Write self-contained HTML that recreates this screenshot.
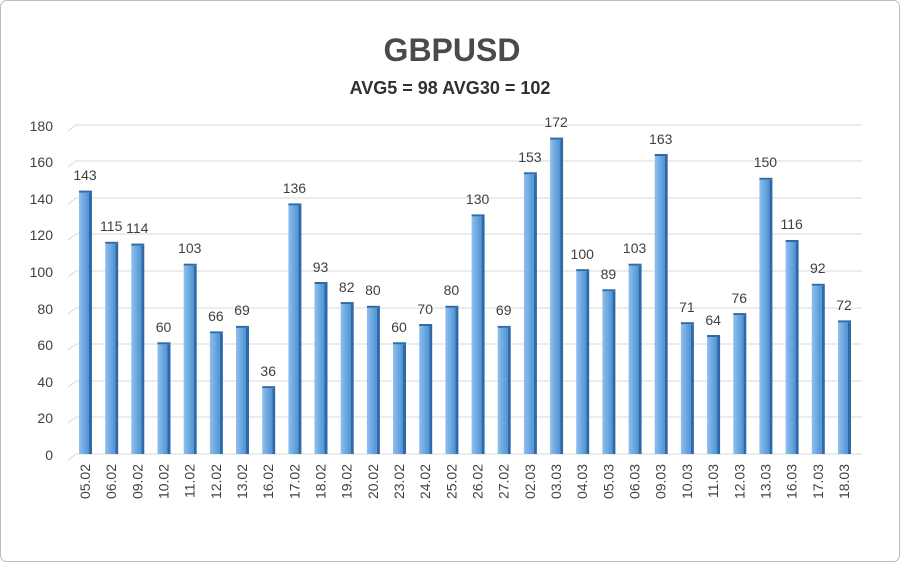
<!DOCTYPE html>
<html><head><meta charset="utf-8"><style>
html,body{margin:0;padding:0;background:#fff}
svg{display:block}
text{font-family:"Liberation Sans",sans-serif}
</style></head><body>
<svg width="900" height="562" viewBox="0 0 900 562" xmlns="http://www.w3.org/2000/svg">
<defs>
<linearGradient id="g" x1="0" x2="1" y1="0" y2="0"><stop offset="0" stop-color="#8fc0ec"/><stop offset="1" stop-color="#4f93d6"/></linearGradient>
</defs>
<rect x="0.5" y="0.5" width="899" height="561" rx="6" fill="#fff" stroke="#bdbdbd"/>
<text x="452" y="61" text-anchor="middle" font-size="32" font-weight="bold" fill="#4a4a4a">GBPUSD</text>
<text x="450" y="94" text-anchor="middle" font-size="18" font-weight="bold" fill="#303030">AVG5 = 98 AVG30 = 102</text>
<g stroke="#d9d9d9" fill="none" stroke-width="1">
<path d="M68,460 L76,454 H862"/><path d="M68,423 L76,417 H862"/><path d="M68,387 L76,381 H862"/><path d="M68,350 L76,344 H862"/><path d="M68,314 L76,308 H862"/><path d="M68,277 L76,271 H862"/><path d="M68,240 L76,234 H862"/><path d="M68,204 L76,198 H862"/><path d="M68,167 L76,161 H862"/><path d="M68,131 L76,125 H862"/>
</g>
<g font-size="14" fill="#404040" text-anchor="end">
<text x="53" y="460">0</text><text x="53" y="423">20</text><text x="53" y="387">40</text><text x="53" y="350">60</text><text x="53" y="314">80</text><text x="53" y="277">100</text><text x="53" y="240">120</text><text x="53" y="204">140</text><text x="53" y="167">160</text><text x="53" y="131">180</text>
</g>
<g font-size="14" fill="#404040">
<g transform="translate(85,0)"><rect x="-6" y="192.6" width="10" height="261.4" fill="url(#g)"/><rect x="4" y="192.6" width="3" height="261.4" fill="#2f6aa8"/><rect x="-6" y="190.6" width="13" height="2" fill="#2f6aa8"/><text y="180" text-anchor="middle">143</text><text transform="translate(5,464) rotate(-90)" text-anchor="end">05.02</text></g>
<g transform="translate(111.2,0)"><rect x="-6" y="243.8" width="10" height="210.2" fill="url(#g)"/><rect x="4" y="243.8" width="3" height="210.2" fill="#2f6aa8"/><rect x="-6" y="241.8" width="13" height="2" fill="#2f6aa8"/><text y="231" text-anchor="middle">115</text><text transform="translate(5,464) rotate(-90)" text-anchor="end">06.02</text></g>
<g transform="translate(137.3,0)"><rect x="-6" y="245.6" width="10" height="208.4" fill="url(#g)"/><rect x="4" y="245.6" width="3" height="208.4" fill="#2f6aa8"/><rect x="-6" y="243.6" width="13" height="2" fill="#2f6aa8"/><text y="233" text-anchor="middle">114</text><text transform="translate(5,464) rotate(-90)" text-anchor="end">09.02</text></g>
<g transform="translate(163.5,0)"><rect x="-6" y="344.3" width="10" height="109.7" fill="url(#g)"/><rect x="4" y="344.3" width="3" height="109.7" fill="#2f6aa8"/><rect x="-6" y="342.3" width="13" height="2" fill="#2f6aa8"/><text y="332" text-anchor="middle">60</text><text transform="translate(5,464) rotate(-90)" text-anchor="end">10.02</text></g>
<g transform="translate(189.7,0)"><rect x="-6" y="265.7" width="10" height="188.3" fill="url(#g)"/><rect x="4" y="265.7" width="3" height="188.3" fill="#2f6aa8"/><rect x="-6" y="263.7" width="13" height="2" fill="#2f6aa8"/><text y="253" text-anchor="middle">103</text><text transform="translate(5,464) rotate(-90)" text-anchor="end">11.02</text></g>
<g transform="translate(215.9,0)"><rect x="-6" y="333.4" width="10" height="120.6" fill="url(#g)"/><rect x="4" y="333.4" width="3" height="120.6" fill="#2f6aa8"/><rect x="-6" y="331.4" width="13" height="2" fill="#2f6aa8"/><text y="321" text-anchor="middle">66</text><text transform="translate(5,464) rotate(-90)" text-anchor="end">12.02</text></g>
<g transform="translate(242,0)"><rect x="-6" y="327.9" width="10" height="126.1" fill="url(#g)"/><rect x="4" y="327.9" width="3" height="126.1" fill="#2f6aa8"/><rect x="-6" y="325.9" width="13" height="2" fill="#2f6aa8"/><text y="315" text-anchor="middle">69</text><text transform="translate(5,464) rotate(-90)" text-anchor="end">13.02</text></g>
<g transform="translate(268.2,0)"><rect x="-6" y="388.2" width="10" height="65.8" fill="url(#g)"/><rect x="4" y="388.2" width="3" height="65.8" fill="#2f6aa8"/><rect x="-6" y="386.2" width="13" height="2" fill="#2f6aa8"/><text y="376" text-anchor="middle">36</text><text transform="translate(5,464) rotate(-90)" text-anchor="end">16.02</text></g>
<g transform="translate(294.4,0)"><rect x="-6" y="205.4" width="10" height="248.6" fill="url(#g)"/><rect x="4" y="205.4" width="3" height="248.6" fill="#2f6aa8"/><rect x="-6" y="203.4" width="13" height="2" fill="#2f6aa8"/><text y="193" text-anchor="middle">136</text><text transform="translate(5,464) rotate(-90)" text-anchor="end">17.02</text></g>
<g transform="translate(320.5,0)"><rect x="-6" y="284" width="10" height="170" fill="url(#g)"/><rect x="4" y="284" width="3" height="170" fill="#2f6aa8"/><rect x="-6" y="282" width="13" height="2" fill="#2f6aa8"/><text y="272" text-anchor="middle">93</text><text transform="translate(5,464) rotate(-90)" text-anchor="end">18.02</text></g>
<g transform="translate(346.7,0)"><rect x="-6" y="304.1" width="10" height="149.9" fill="url(#g)"/><rect x="4" y="304.1" width="3" height="149.9" fill="#2f6aa8"/><rect x="-6" y="302.1" width="13" height="2" fill="#2f6aa8"/><text y="292" text-anchor="middle">82</text><text transform="translate(5,464) rotate(-90)" text-anchor="end">19.02</text></g>
<g transform="translate(372.9,0)"><rect x="-6" y="307.8" width="10" height="146.2" fill="url(#g)"/><rect x="4" y="307.8" width="3" height="146.2" fill="#2f6aa8"/><rect x="-6" y="305.8" width="13" height="2" fill="#2f6aa8"/><text y="295" text-anchor="middle">80</text><text transform="translate(5,464) rotate(-90)" text-anchor="end">20.02</text></g>
<g transform="translate(399,0)"><rect x="-6" y="344.3" width="10" height="109.7" fill="url(#g)"/><rect x="4" y="344.3" width="3" height="109.7" fill="#2f6aa8"/><rect x="-6" y="342.3" width="13" height="2" fill="#2f6aa8"/><text y="332" text-anchor="middle">60</text><text transform="translate(5,464) rotate(-90)" text-anchor="end">23.02</text></g>
<g transform="translate(425.2,0)"><rect x="-6" y="326" width="10" height="128" fill="url(#g)"/><rect x="4" y="326" width="3" height="128" fill="#2f6aa8"/><rect x="-6" y="324" width="13" height="2" fill="#2f6aa8"/><text y="314" text-anchor="middle">70</text><text transform="translate(5,464) rotate(-90)" text-anchor="end">24.02</text></g>
<g transform="translate(451.4,0)"><rect x="-6" y="307.8" width="10" height="146.2" fill="url(#g)"/><rect x="4" y="307.8" width="3" height="146.2" fill="#2f6aa8"/><rect x="-6" y="305.8" width="13" height="2" fill="#2f6aa8"/><text y="295" text-anchor="middle">80</text><text transform="translate(5,464) rotate(-90)" text-anchor="end">25.02</text></g>
<g transform="translate(477.6,0)"><rect x="-6" y="216.4" width="10" height="237.6" fill="url(#g)"/><rect x="4" y="216.4" width="3" height="237.6" fill="#2f6aa8"/><rect x="-6" y="214.4" width="13" height="2" fill="#2f6aa8"/><text y="204" text-anchor="middle">130</text><text transform="translate(5,464) rotate(-90)" text-anchor="end">26.02</text></g>
<g transform="translate(503.7,0)"><rect x="-6" y="327.9" width="10" height="126.1" fill="url(#g)"/><rect x="4" y="327.9" width="3" height="126.1" fill="#2f6aa8"/><rect x="-6" y="325.9" width="13" height="2" fill="#2f6aa8"/><text y="315" text-anchor="middle">69</text><text transform="translate(5,464) rotate(-90)" text-anchor="end">27.02</text></g>
<g transform="translate(529.9,0)"><rect x="-6" y="174.3" width="10" height="279.7" fill="url(#g)"/><rect x="4" y="174.3" width="3" height="279.7" fill="#2f6aa8"/><rect x="-6" y="172.3" width="13" height="2" fill="#2f6aa8"/><text y="162" text-anchor="middle">153</text><text transform="translate(5,464) rotate(-90)" text-anchor="end">02.03</text></g>
<g transform="translate(556.1,0)"><rect x="-6" y="139.6" width="10" height="314.4" fill="url(#g)"/><rect x="4" y="139.6" width="3" height="314.4" fill="#2f6aa8"/><rect x="-6" y="137.6" width="13" height="2" fill="#2f6aa8"/><text y="127" text-anchor="middle">172</text><text transform="translate(5,464) rotate(-90)" text-anchor="end">03.03</text></g>
<g transform="translate(582.2,0)"><rect x="-6" y="271.2" width="10" height="182.8" fill="url(#g)"/><rect x="4" y="271.2" width="3" height="182.8" fill="#2f6aa8"/><rect x="-6" y="269.2" width="13" height="2" fill="#2f6aa8"/><text y="259" text-anchor="middle">100</text><text transform="translate(5,464) rotate(-90)" text-anchor="end">04.03</text></g>
<g transform="translate(608.4,0)"><rect x="-6" y="291.3" width="10" height="162.7" fill="url(#g)"/><rect x="4" y="291.3" width="3" height="162.7" fill="#2f6aa8"/><rect x="-6" y="289.3" width="13" height="2" fill="#2f6aa8"/><text y="279" text-anchor="middle">89</text><text transform="translate(5,464) rotate(-90)" text-anchor="end">05.03</text></g>
<g transform="translate(634.6,0)"><rect x="-6" y="265.7" width="10" height="188.3" fill="url(#g)"/><rect x="4" y="265.7" width="3" height="188.3" fill="#2f6aa8"/><rect x="-6" y="263.7" width="13" height="2" fill="#2f6aa8"/><text y="253" text-anchor="middle">103</text><text transform="translate(5,464) rotate(-90)" text-anchor="end">06.03</text></g>
<g transform="translate(660.7,0)"><rect x="-6" y="156" width="10" height="298" fill="url(#g)"/><rect x="4" y="156" width="3" height="298" fill="#2f6aa8"/><rect x="-6" y="154" width="13" height="2" fill="#2f6aa8"/><text y="144" text-anchor="middle">163</text><text transform="translate(5,464) rotate(-90)" text-anchor="end">09.03</text></g>
<g transform="translate(686.9,0)"><rect x="-6" y="324.2" width="10" height="129.8" fill="url(#g)"/><rect x="4" y="324.2" width="3" height="129.8" fill="#2f6aa8"/><rect x="-6" y="322.2" width="13" height="2" fill="#2f6aa8"/><text y="312" text-anchor="middle">71</text><text transform="translate(5,464) rotate(-90)" text-anchor="end">10.03</text></g>
<g transform="translate(713.1,0)"><rect x="-6" y="337" width="10" height="117" fill="url(#g)"/><rect x="4" y="337" width="3" height="117" fill="#2f6aa8"/><rect x="-6" y="335" width="13" height="2" fill="#2f6aa8"/><text y="325" text-anchor="middle">64</text><text transform="translate(5,464) rotate(-90)" text-anchor="end">11.03</text></g>
<g transform="translate(739.3,0)"><rect x="-6" y="315.1" width="10" height="138.9" fill="url(#g)"/><rect x="4" y="315.1" width="3" height="138.9" fill="#2f6aa8"/><rect x="-6" y="313.1" width="13" height="2" fill="#2f6aa8"/><text y="303" text-anchor="middle">76</text><text transform="translate(5,464) rotate(-90)" text-anchor="end">12.03</text></g>
<g transform="translate(765.4,0)"><rect x="-6" y="179.8" width="10" height="274.2" fill="url(#g)"/><rect x="4" y="179.8" width="3" height="274.2" fill="#2f6aa8"/><rect x="-6" y="177.8" width="13" height="2" fill="#2f6aa8"/><text y="167" text-anchor="middle">150</text><text transform="translate(5,464) rotate(-90)" text-anchor="end">13.03</text></g>
<g transform="translate(791.6,0)"><rect x="-6" y="242" width="10" height="212" fill="url(#g)"/><rect x="4" y="242" width="3" height="212" fill="#2f6aa8"/><rect x="-6" y="240" width="13" height="2" fill="#2f6aa8"/><text y="229" text-anchor="middle">116</text><text transform="translate(5,464) rotate(-90)" text-anchor="end">16.03</text></g>
<g transform="translate(817.8,0)"><rect x="-6" y="285.8" width="10" height="168.2" fill="url(#g)"/><rect x="4" y="285.8" width="3" height="168.2" fill="#2f6aa8"/><rect x="-6" y="283.8" width="13" height="2" fill="#2f6aa8"/><text y="273" text-anchor="middle">92</text><text transform="translate(5,464) rotate(-90)" text-anchor="end">17.03</text></g>
<g transform="translate(844,0)"><rect x="-6" y="322.4" width="10" height="131.6" fill="url(#g)"/><rect x="4" y="322.4" width="3" height="131.6" fill="#2f6aa8"/><rect x="-6" y="320.4" width="13" height="2" fill="#2f6aa8"/><text y="310" text-anchor="middle">72</text><text transform="translate(5,464) rotate(-90)" text-anchor="end">18.03</text></g>
</g>
</svg>
</body></html>
